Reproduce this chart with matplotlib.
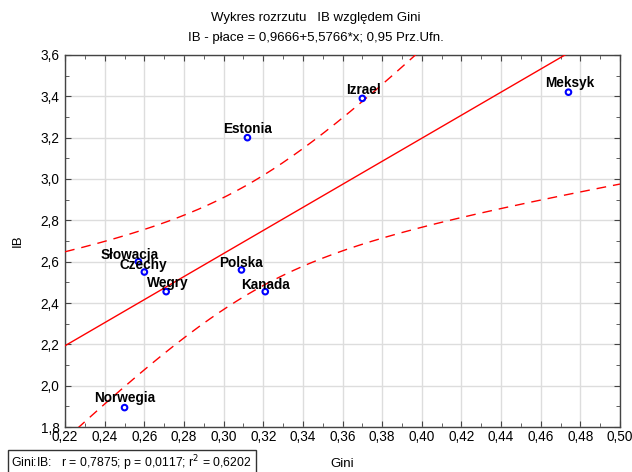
import numpy as np
import matplotlib
matplotlib.use("Agg")
import matplotlib.pyplot as plt
from matplotlib.ticker import MultipleLocator, FuncFormatter

countries = ["Meksyk", "Izrael", "Estonia", "Słowacja", "Czechy", "Węgry", "Polska", "Kanada", "Norwegia"]
gini = [0.474, 0.370, 0.312, 0.257, 0.260, 0.271, 0.309, 0.321, 0.250]
ib = [3.42, 3.39, 3.20, 2.60, 2.55, 2.455, 2.56, 2.455, 1.894]
intercept = 0.9666
slope = 5.5766
t_crit = 2.3646  # t(0.975, df=7)

plt.rcParams['font.family'] = ['Liberation Sans', 'DejaVu Sans']

fig = plt.figure(figsize=(6.32, 4.72), dpi=100)
ax = fig.add_axes([0.103, 0.0953, 0.878, 0.7882])

x = np.array(gini)
y = np.array(ib)
n = len(x)
xs = np.linspace(0.22, 0.50, 300)
yhat = intercept + slope * xs
resid = y - (intercept + slope * x)
s = np.sqrt(np.sum(resid ** 2) / (n - 2))
sxx = np.sum((x - x.mean()) ** 2)
se = s * np.sqrt(1.0 / n + (xs - x.mean()) ** 2 / sxx)

ax.plot(xs, yhat, color='red', lw=1.0, zorder=3)
ax.plot(xs, yhat + t_crit * se, color='red', lw=1.0, ls=(0, (7, 5)), zorder=3)
ax.plot(xs, yhat - t_crit * se, color='red', lw=1.0, ls=(0, (7, 5)), zorder=3)

ax.scatter(x, y, s=16, facecolors='none', edgecolors='blue', linewidths=1.5, zorder=4)

offsets = {
    "Meksyk": (1, 6.5), "Izrael": (1, 6), "Estonia": (0, 6), "Słowacja": (-6.5, 5),
    "Czechy": (-1, 5), "Węgry": (1, 6.5), "Polska": (0, 5), "Kanada": (0, 5), "Norwegia": (0, 7),
}
for c, xi, yi in zip(countries, gini, ib):
    dx, dy = offsets[c]
    ax.annotate(c, (xi, yi), xytext=(dx, dy), textcoords='offset points',
                ha='center', va='center', fontsize=9.8, fontweight='bold', zorder=5)

ax.set_xlim(0.22, 0.50)
ax.set_ylim(1.8, 3.6)
ax.xaxis.set_major_locator(MultipleLocator(0.02))
ax.xaxis.set_minor_locator(MultipleLocator(0.01))
ax.yaxis.set_major_locator(MultipleLocator(0.2))
ax.yaxis.set_minor_locator(MultipleLocator(0.1))
ax.xaxis.set_major_formatter(FuncFormatter(lambda v, p: f"{v:.2f}".replace('.', ',')))
ax.yaxis.set_major_formatter(FuncFormatter(lambda v, p: f"{v:.1f}".replace('.', ',')))
ax.tick_params(which='both', direction='in', top=True, right=True, labelsize=9.8, color='#444444')
ax.tick_params(which='major', length=4, pad=2)
ax.tick_params(which='minor', length=3)
ax.tick_params(axis='y', pad=4)
ax.grid(True, which='major', color='#dddddd', lw=1.0, zorder=0)
ax.set_axisbelow(True)
for sp in ax.spines.values():
    sp.set_color('#444444')
    sp.set_linewidth(1.0)

ax.set_xlabel("Gini", fontsize=9.5, labelpad=10)
ax.set_ylabel("IB", fontsize=9.5, labelpad=12)

fig.text(0.5, 0.962, "Wykres rozrzutu   IB względem Gini", ha='center', va='center', fontsize=9.5)
fig.text(0.5, 0.920, "IB - płace = 0,9666+5,5766*x; 0,95 Prz.Ufn.", ha='center', va='center', fontsize=9.5)

fig.text(0.018, 0.019, "Gini:IB:   r = 0,7875; p = 0,0117; r$^2$ = 0,6202", ha='left', va='center', fontsize=8.8,
         bbox=dict(boxstyle='square,pad=0.3', facecolor='white', edgecolor='#333333', lw=1.0))

fig.savefig("out.png", dpi=100)
